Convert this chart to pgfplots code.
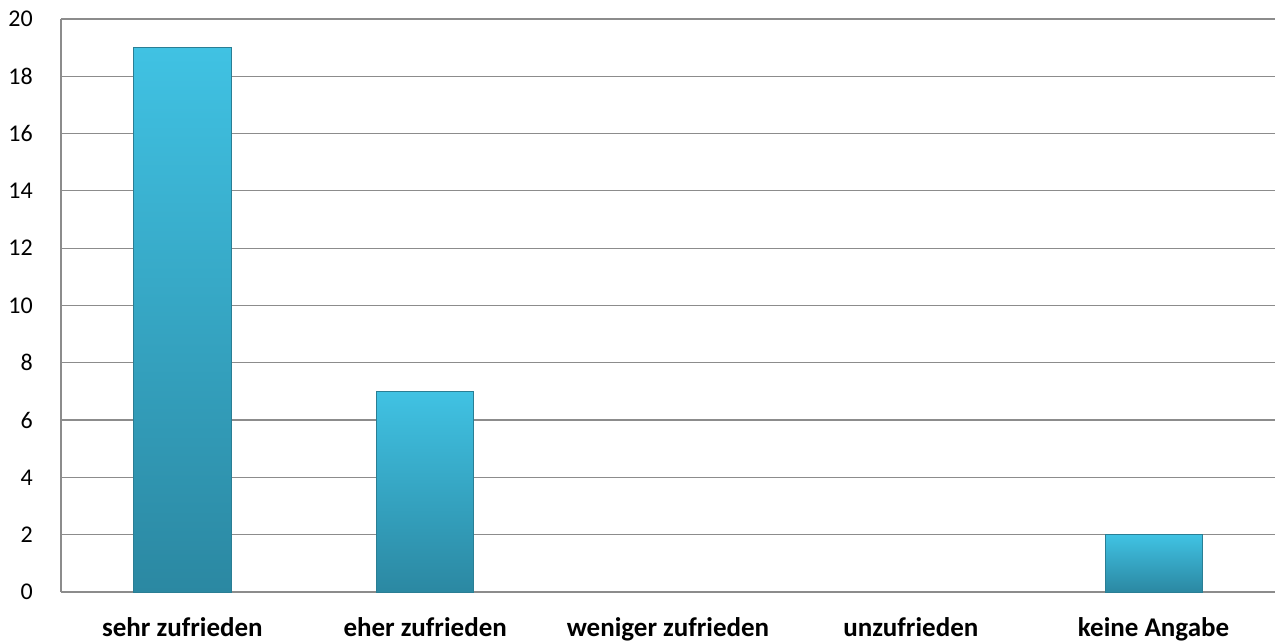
\documentclass[border=0pt]{standalone}
\usepackage{fontspec}
\setmainfont{Carlito}
\usepackage{pgfplots}
\pgfplotsset{compat=1.18}

\definecolor{bartop}{HTML}{40C2E3}
\definecolor{barbot}{HTML}{2B88A2}
\definecolor{baredge}{HTML}{2A7E94}
\definecolor{gridgray}{HTML}{8C8C8C}

\pgfplotsset{
    barstyle/.style = {ybar, bar width=0.4, draw=baredge, line width=0.8pt,
                       top color=bartop, bottom color=barbot},
}

\begin{document}
\begin{tikzpicture}
\begin{axis}[
    scale only axis,
    width           = 1214pt,
    height          = 573pt,
    xmin            = -0.5,
    xmax            = 4.5,
    ymin            = 0,
    ymax            = 20,
    ytick           = {0,2,...,20},
    xtick           = {0,1,2,3,4},
    xticklabels     = {sehr zufrieden, eher zufrieden, weniger zufrieden, unzufrieden, keine Angabe},
    axis x line*    = bottom,
    axis y line*    = left,
    axis line style = {gridgray, line width=1.2pt},
    ymajorgrids,
    grid style      = {gridgray, line width=1.2pt},
    major tick length = 0pt,
    xticklabel style  = {font=\fontsize{27}{31}\selectfont\bfseries, inner sep=0pt, anchor=north, yshift=-25pt},
    yticklabel style  = {font=\fontsize{24}{28}\selectfont, inner sep=0pt, anchor=east, xshift=-28pt},
    /pgf/number format/assume math mode=true,
    clip = false,
]
    % one plot per category, so each bar gets its own gradient
    \addplot[barstyle] coordinates {(0,19)};  % sehr zufrieden
    \addplot[barstyle] coordinates {(1,7)};   % eher zufrieden
    % weniger zufrieden = 0, unzufrieden = 0 (no bar drawn)
    \addplot[barstyle] coordinates {(4,2)};   % keine Angabe
\end{axis}
\path[use as bounding box] ([shift={(-61pt,-49pt)}]current axis.south west)
    rectangle ([shift={(2pt,19pt)}]current axis.north east);
\end{tikzpicture}
\end{document}
